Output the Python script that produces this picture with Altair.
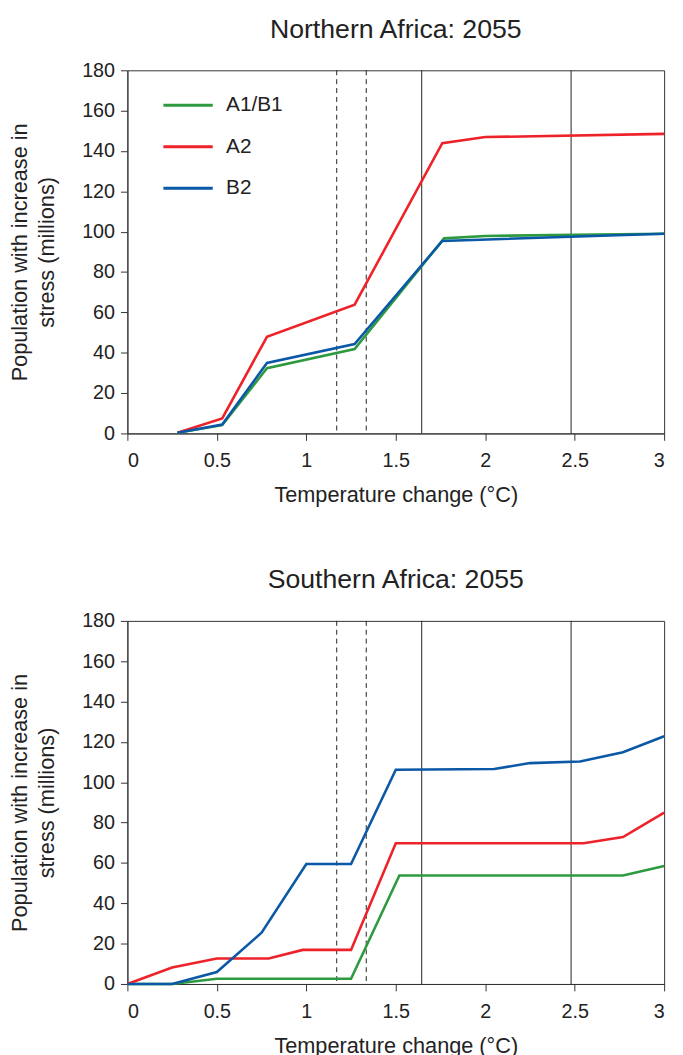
import altair as alt
import pandas as pd

# ---- data ----
series = ["A1/B1", "A2", "B2"]
colors = ["#2e9a3f", "#ee2229", "#0a58a6"]

# Northern Africa: 2055
n_a1b1_x = [0.28, 0.53, 0.78, 1.27, 1.77, 2.0, 3.0]
n_a1b1_y = [0.3, 4.1, 32.3, 41.8, 96.7, 97.9, 99.0]
n_a2_x = [0.28, 0.53, 0.78, 1.27, 1.76, 2.0, 3.0]
n_a2_y = [0.3, 7.4, 47.9, 63.8, 143.9, 146.9, 148.5]
n_b2_x = [0.28, 0.53, 0.78, 1.27, 1.76, 3.0]
n_b2_y = [0.3, 4.4, 34.9, 44.3, 95.4, 99.0]

# Southern Africa: 2055
s_a1b1_x = [0, 0.25, 0.5, 1.25, 1.52, 2.77, 3.0]
s_a1b1_y = [0, 0, 2.6, 2.6, 53.8, 53.8, 58.5]
s_a2_x = [0, 0.25, 0.5, 0.79, 0.98, 1.25, 1.5, 2.55, 2.77, 3.0]
s_a2_y = [0, 8.2, 12.6, 12.6, 16.9, 16.9, 69.8, 69.8, 72.8, 84.9]
s_b2_x = [0, 0.25, 0.5, 0.75, 1.0, 1.25, 1.5, 2.05, 2.25, 2.53, 2.77, 3.0]
s_b2_y = [0, 0, 5.9, 25.4, 59.5, 59.5, 106.2, 106.6, 109.5, 110.3, 114.9, 122.8]

dashed_x = [1.17, 1.335]
solid_x = [1.645, 2.48]

x_ticks = [0, 0.5, 1, 1.5, 2, 2.5, 3]
y_ticks = [0, 20, 40, 60, 80, 100, 120, 140, 160, 180]

FONT = "Liberation Sans"


def make_df(parts):
    rows = []
    for name, xs, ys in parts:
        for i, (x, y) in enumerate(zip(xs, ys)):
            rows.append({"series": name, "x": x, "y": y, "order": i})
    return pd.DataFrame(rows)


def panel(title, df):
    xscale = alt.Scale(domain=[0, 3], nice=False, zero=False)
    yscale = alt.Scale(domain=[0, 180], nice=False)
    xaxis = alt.Axis(values=x_ticks, format="~g", title="Temperature change (°C)",
                     grid=False, tickSize=7, labelPadding=11, titlePadding=14)
    yaxis = alt.Axis(values=y_ticks, title=["Population with increase in", "stress (millions)"],
                     grid=False, tickSize=7, labelPadding=6, titlePadding=24,
                     titleLineHeight=27)
    lines = alt.Chart(df).mark_line(strokeWidth=2.6).encode(
        x=alt.X("x:Q", scale=xscale, axis=xaxis),
        y=alt.Y("y:Q", scale=yscale, axis=yaxis),
        color=alt.Color("series:N", scale=alt.Scale(domain=series, range=colors),
                        sort=series,
                        legend=alt.Legend(orient="none", legendX=35, legendY=9, title=None,
                                          symbolType="stroke", symbolSize=2500,
                                          symbolStrokeWidth=3, labelFontSize=21,
                                          labelFont=FONT, labelOffset=12,
                                          rowPadding=5, labelColor="#222")),
        order="order:Q",
        detail="series:N",
    )
    dashed = alt.Chart(pd.DataFrame({"x": dashed_x})).mark_rule(
        color="#222", strokeWidth=1, strokeDash=[5, 4]).encode(x=alt.X("x:Q", scale=xscale))
    solid = alt.Chart(pd.DataFrame({"x": solid_x})).mark_rule(
        color="#222", strokeWidth=1).encode(x=alt.X("x:Q", scale=xscale))
    return alt.layer(dashed, solid, lines).properties(
        width=544, height=368,
        title=alt.TitleParams(title, fontSize=27, font=FONT, fontWeight="normal",
                              color="#222", offset=17, anchor="middle"),
    )


north = make_df([("A1/B1", n_a1b1_x, n_a1b1_y), ("A2", n_a2_x, n_a2_y), ("B2", n_b2_x, n_b2_y)])
south = make_df([("A1/B1", s_a1b1_x, s_a1b1_y), ("A2", s_a2_x, s_a2_y), ("B2", s_b2_x, s_b2_y)])

chart = alt.vconcat(
    panel("Northern Africa: 2055", north),
    panel("Southern Africa: 2055", south),
    spacing=60,
).configure_axis(
    labelFont=FONT, titleFont=FONT, labelFontSize=20, titleFontSize=22,
    labelColor="#222", titleColor="#222", domainColor="#333", tickColor="#333",
    titleFontWeight="normal",
).configure_view(
    stroke="#333", strokeWidth=1
).properties(
    padding={"left": 0, "top": 0, "right": 5, "bottom": 5}
)

chart.save("out.html", embed_options={"renderer": "svg", "actions": False})
